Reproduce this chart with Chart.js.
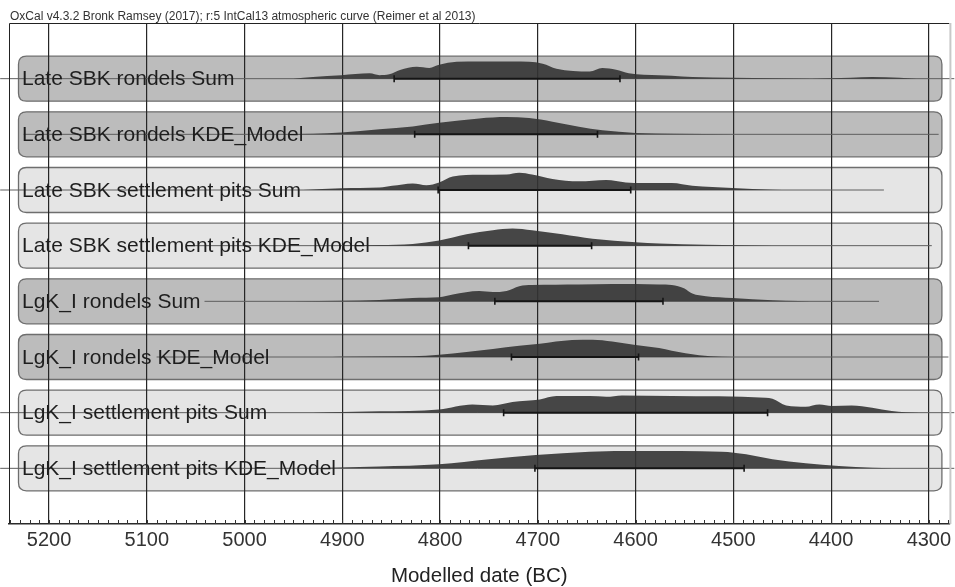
<!DOCTYPE html>
<html>
<head>
<meta charset="utf-8">
<script src="https://cdn.jsdelivr.net/npm/chart.js@4.4.1/dist/chart.umd.min.js"></script>
<style>
  html, body { margin: 0; padding: 0; background: #fff; }
  #wrap { width: 955px; height: 587px; }
</style>
</head>
<body>
<div id="wrap"><canvas id="multiplot" width="955" height="587"></canvas></div>
<script>
// OxCal multiplot - rows from top to bottom

var rowLabels = [
  "Late SBK rondels Sum",
  "Late SBK rondels KDE_Model",
  "Late SBK settlement pits Sum",
  "Late SBK settlement pits KDE_Model",
  "LgK_I rondels Sum",
  "LgK_I rondels KDE_Model",
  "LgK_I settlement pits Sum",
  "LgK_I settlement pits KDE_Model"
];
var rowShade = ["dark", "dark", "light", "light", "dark", "dark", "light", "light"];

// probability (relative to each row's peak) against date BC
var sbkRondelsSumYears = [4950, 4930, 4901, 4872, 4862, 4852, 4841, 4824, 4811, 4801, 4783, 4760, 4726, 4709, 4695, 4681, 4647, 4634, 4620, 4607, 4576, 4563, 4542, 4500, 4460, 4420, 4380, 4358, 4330, 4313];
var sbkRondelsSumProb  = [0, 0.1, 0.2, 0.31, 0.2, 0.25, 0.5, 0.69, 0.62, 0.8, 0.98, 1.0, 1.0, 0.98, 0.87, 0.58, 0.42, 0.62, 0.52, 0.31, 0.2, 0.17, 0.1, 0.05, 0.02, 0, 0.05, 0.1, 0.06, 0];

var sbkRondelsKdeYears = [4960, 4930, 4901, 4862, 4828, 4801, 4760, 4732, 4709, 4685, 4658, 4634, 4600, 4560, 4500, 4460];
var sbkRondelsKdeProb  = [0.01, 0.04, 0.11, 0.29, 0.46, 0.67, 0.92, 1.0, 0.94, 0.73, 0.44, 0.23, 0.08, 0.03, 0.01, 0];

var sbkPitsSumYears = [4940, 4901, 4862, 4849, 4828, 4814, 4801, 4787, 4760, 4732, 4719, 4706, 4685, 4658, 4630, 4610, 4576, 4563, 4542, 4501, 4460, 4440];
var sbkPitsSumProb  = [0, 0.1, 0.14, 0.24, 0.38, 0.28, 0.44, 0.78, 0.88, 0.9, 1.0, 0.9, 0.64, 0.5, 0.58, 0.44, 0.4, 0.4, 0.24, 0.12, 0.02, 0];

var sbkPitsKdeYears = [4900, 4862, 4828, 4801, 4773, 4746, 4726, 4706, 4675, 4644, 4600, 4576, 4528, 4494, 4460];
var sbkPitsKdeProb  = [0.01, 0.04, 0.1, 0.3, 0.66, 0.9, 1.0, 0.9, 0.66, 0.4, 0.2, 0.12, 0.06, 0.02, 0];

var lgkRondelsSumYears = [4950, 4901, 4862, 4828, 4801, 4787, 4760, 4746, 4732, 4719, 4706, 4658, 4624, 4576, 4563, 4550, 4542, 4528, 4501, 4460, 4433, 4410];
var lgkRondelsSumProb  = [0, 0.04, 0.08, 0.2, 0.24, 0.4, 0.6, 0.54, 0.6, 0.88, 0.94, 0.98, 1.0, 0.98, 0.95, 0.75, 0.45, 0.3, 0.2, 0.06, 0.02, 0];

var lgkRondelsKdeYears = [4920, 4901, 4828, 4801, 4773, 4746, 4719, 4698, 4665, 4644, 4624, 4600, 4576, 4563, 4535, 4512, 4490];
var lgkRondelsKdeProb  = [0, 0.02, 0.04, 0.13, 0.29, 0.46, 0.65, 0.77, 0.98, 1.0, 0.9, 0.7, 0.52, 0.36, 0.1, 0.02, 0];

var lgkPitsSumYears = [4930, 4913, 4862, 4801, 4767, 4746, 4726, 4698, 4681, 4647, 4630, 4614, 4563, 4467, 4460, 4446, 4426, 4412, 4399, 4379, 4358, 4338, 4324, 4310];
var lgkPitsSumProb  = [0, 0.02, 0.08, 0.19, 0.48, 0.42, 0.62, 0.77, 0.96, 0.96, 0.92, 1.0, 0.96, 0.87, 0.8, 0.42, 0.35, 0.48, 0.39, 0.42, 0.29, 0.1, 0.02, 0];

var lgkPitsKdeYears = [4940, 4923, 4862, 4801, 4750, 4702, 4647, 4596, 4512, 4487, 4460, 4426, 4392, 4358, 4338, 4320];
var lgkPitsKdeProb  = [0, 0.02, 0.1, 0.23, 0.52, 0.77, 0.96, 1.0, 0.96, 0.81, 0.52, 0.29, 0.13, 0.04, 0.01, 0];

// 95.4% ranges (bars under each distribution)
var rangeFrom = [4847, 4826, 4802, 4771, 4744, 4727, 4735, 4703];
var rangeTo   = [4616, 4639, 4605, 4645, 4572, 4597, 4465, 4489];

// extent of the calculated range (thin line)
var lineStart = [5250, 5226, 5250, 5059, 5041, 5090, 5250, 5250];
var lineEnd   = [4274, 4290, 4346, 4297, 4351, 4280, 4274, 4274];

var yearsByRow = [sbkRondelsSumYears, sbkRondelsKdeYears, sbkPitsSumYears, sbkPitsKdeYears,
                  lgkRondelsSumYears, lgkRondelsKdeYears, lgkPitsSumYears, lgkPitsKdeYears];
var probByRow  = [sbkRondelsSumProb, sbkRondelsKdeProb, sbkPitsSumProb, sbkPitsKdeProb,
                  lgkRondelsSumProb, lgkRondelsKdeProb, lgkPitsSumProb, lgkPitsKdeProb];

var peakHeight = 0.31;   // in row units

function rowBase(i) { return rowLabels.length - i; }

var datasets = [];
rowLabels.forEach(function (lab, i) {
  var base = rowBase(i);
  // thin line
  datasets.push({
    data: [{x: lineStart[i], y: base}, {x: lineEnd[i], y: base}],
    borderColor: "#5e5e5e",
    borderWidth: 1,
    pointRadius: 0,
    fill: false,
    clip: false,
    order: 3
  });
  // distribution
  datasets.push({
    data: yearsByRow[i].map(function (yr, k) { return {x: yr, y: base + probByRow[i][k] * peakHeight}; }),
    borderWidth: 0,
    borderColor: "rgba(55,55,55,0.9)",
    backgroundColor: "rgba(52,52,52,0.9)",
    pointRadius: 0,
    cubicInterpolationMode: "monotone",
    fill: {value: base},
    order: 2
  });
  // range bar
  datasets.push({
    data: [{x: rangeFrom[i], y: base}, {x: rangeTo[i], y: base}],
    borderColor: "#151515",
    borderWidth: 2,
    pointStyle: "line",
    rotation: 90,
    pointRadius: 3.5,
    pointBorderWidth: 1.6,
    pointBorderColor: "#151515",
    fill: false,
    order: 1
  });
});

function roundRect(ctx, x, y, w, h, r) {
  ctx.beginPath();
  ctx.moveTo(x + r, y);
  ctx.lineTo(x + w - r, y);
  ctx.quadraticCurveTo(x + w, y, x + w, y + r);
  ctx.lineTo(x + w, y + h - r);
  ctx.quadraticCurveTo(x + w, y + h, x + w - r, y + h);
  ctx.lineTo(x + r, y + h);
  ctx.quadraticCurveTo(x, y + h, x, y + h - r);
  ctx.lineTo(x, y + r);
  ctx.quadraticCurveTo(x, y, x + r, y);
  ctx.closePath();
}

// row boxes behind the grid
var rowBoxes = {
  id: "rowBoxes",
  beforeDraw: function (chart) {
    var ctx = chart.ctx, a = chart.chartArea, ys = chart.scales.y;
    ctx.save();
    rowLabels.forEach(function (lab, i) {
      var cy = ys.getPixelForValue(rowBase(i));
      roundRect(ctx, a.left + 9.5, cy - 22.5, a.right - a.left - 17, 45, 8);
      ctx.fillStyle = rowShade[i] === "dark" ? "#bcbcbc" : "#e5e5e5";
      ctx.fill();
      ctx.lineWidth = 1.3;
      ctx.strokeStyle = "#6e6e6e";
      ctx.stroke();
    });
    ctx.restore();
  }
};

// labels, frame, minor ticks, header
var decor = {
  id: "decor",
  afterDatasetsDraw: function (chart) {
    var ctx = chart.ctx, a = chart.chartArea, ys = chart.scales.y;
    ctx.save();
    ctx.font = "21px 'Liberation Sans', Arial, sans-serif";
    ctx.fillStyle = "#1e1e1e";
    ctx.textBaseline = "middle";
    rowLabels.forEach(function (lab, i) {
      ctx.fillText(lab, a.left + 13, ys.getPixelForValue(rowBase(i)) + 1);
    });
    ctx.restore();
  },
  afterDraw: function (chart) {
    var ctx = chart.ctx, a = chart.chartArea, xs = chart.scales.x;
    ctx.save();
    // minor ticks every 10 years
    ctx.strokeStyle = "#333";
    ctx.lineWidth = 1;
    var lo = Math.ceil(xs.min / 10) * 10;
    for (var v = lo; v <= xs.max; v += 10) {
      var px = Math.round(xs.getPixelForValue(v)) + 0.5;
      ctx.beginPath();
      ctx.moveTo(px, a.bottom);
      ctx.lineTo(px, a.bottom - 4);
      ctx.stroke();
    }
    // frame
    ctx.strokeStyle = "#222";
    ctx.beginPath();
    ctx.moveTo(a.left + 0.5, a.bottom);
    ctx.lineTo(a.left + 0.5, a.top + 0.5);
    ctx.lineTo(a.right, a.top + 0.5);
    ctx.stroke();
    ctx.strokeStyle = "#c8c8c8";
    ctx.lineWidth = 2;
    ctx.beginPath();
    ctx.moveTo(a.right + 1, a.top);
    ctx.lineTo(a.right + 1, a.bottom);
    ctx.stroke();
    // header
    ctx.font = "12px 'Liberation Sans', Arial, sans-serif";
    ctx.fillStyle = "#333";
    ctx.textBaseline = "alphabetic";
    ctx.fillText("OxCal v4.3.2 Bronk Ramsey (2017); r:5 IntCal13 atmospheric curve (Reimer et al 2013)", 10, 20);
    ctx.restore();
  }
};

new Chart(document.getElementById("multiplot"), {
  type: "line",
  data: { datasets: datasets },
  options: {
    responsive: false,
    animation: false,
    layout: {
      padding: { left: 9, right: 5, top: 23, bottom: 0 }
    },
    plugins: {
      legend: { display: false },
      tooltip: { enabled: false }
    },
    scales: {
      x: {
        type: "linear",
        reverse: true,
        min: 4279,
        max: 5241,
        grid: {
          color: "#262626",
          lineWidth: 1.2,
          drawTicks: false
        },
        border: { display: true, color: "#2a2a2a", width: 1.5 },
        ticks: {
          stepSize: 100,
          includeBounds: false,
          padding: 3,
          color: "#333",
          font: { family: "'Liberation Sans', Arial, sans-serif", size: 20, lineHeight: 1.3 },
          callback: function (v) { return String(v); }
        },
        title: {
          display: true,
          text: "Modelled date (BC)",
          color: "#222",
          font: { family: "'Liberation Sans', Arial, sans-serif", size: 20.5, lineHeight: 1 },
          padding: { top: 10.5, bottom: 0 }
        }
      },
      y: {
        type: "linear",
        display: false,
        min: 0,
        max: 9
      }
    }
  },
  plugins: [rowBoxes, decor]
});
</script>
</body>
</html>
